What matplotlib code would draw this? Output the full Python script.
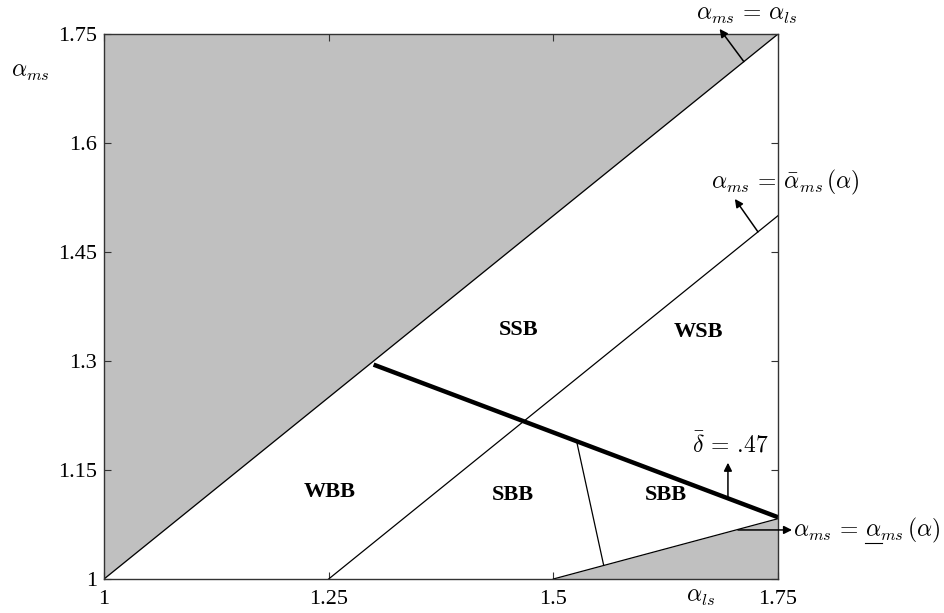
import matplotlib
matplotlib.use("Agg")
import matplotlib.pyplot as plt
from matplotlib.lines import Line2D

plt.rcParams['mathtext.fontset'] = 'cm'
plt.rcParams['font.family'] = ['Liberation Serif', 'DejaVu Serif']

# ---- data ----
diag_x = [1.0, 1.75]
diag_y = [1.0, 1.75]
upper_x = [1.25, 1.75]
upper_y = [1.0, 1.5]
lower_x = [1.5, 1.75]
lower_y = [1.0, 1.083]
delta_x = [1.3, 1.75]
delta_y = [1.295, 1.085]
split_x = [1.526, 1.556]
split_y = [1.189, 1.019]

xticks = [1, 1.25, 1.5, 1.75]
xticklabels = ['1', '1.25', '1.5', '1.75']
yticks = [1, 1.15, 1.3, 1.45, 1.6, 1.75]
yticklabels = ['1', '1.15', '1.3', '1.45', '1.6', '1.75']

region_names = ['SSB', 'WSB', 'WBB', 'SBB', 'SBB']
region_x = [1.461, 1.662, 1.2515, 1.455, 1.625]
region_y = [1.343, 1.340, 1.120, 1.116, 1.116]

gray = '#c0c0c0'
MFS = 17

fig = plt.figure(figsize=(9.45, 6.13), dpi=100)
ax = fig.add_axes([104/945, 1-579/613, 674/945, 545/613])
ax.set_xlim(1, 1.75)
ax.set_ylim(1, 1.75)

ax.fill_between(diag_x, diag_y, 1.75, color=gray, lw=0)
ax.fill_between(lower_x, 1.0, lower_y, color=gray, lw=0)

ax.plot(diag_x, diag_y, color='black', lw=0.9)
ax.plot(upper_x, upper_y, color='black', lw=0.9)
ax.plot(lower_x, lower_y, color='black', lw=0.9)
ax.plot(split_x, split_y, color='black', lw=0.9)
ax.plot(delta_x, delta_y, color='black', lw=3.2, solid_capstyle='butt')

for s in ax.spines.values():
    s.set_color('#333333')
    s.set_linewidth(1.0)

ax.set_xticks(xticks)
ax.set_xticklabels(xticklabels)
ax.set_yticks(yticks)
ax.set_yticklabels(yticklabels)
ax.tick_params(direction='in', length=5, width=0.8, colors='#333333',
               labelcolor='black', labelsize=16, top=True, right=True, pad=5)
ax.tick_params(axis='x', pad=8)

for name, x, y in zip(region_names, region_x, region_y):
    ax.text(x, y, name, ha='center', va='center', fontsize=16, fontweight='bold')

fig.text(30/945, 1-72/613, r'$\alpha_{ms}$', fontsize=MFS, ha='center', va='center')
fig.text(700/945, 1-598/613, r'$\alpha_{ls}$', fontsize=MFS, ha='center', va='center')

arrowprops = dict(arrowstyle='-|>', color='black', lw=1.1, mutation_scale=12,
                  shrinkA=0, shrinkB=0)

ax.annotate('', xy=(1.685, 1.757), xytext=(1.712, 1.712),
            arrowprops=arrowprops, annotation_clip=False)
fig.text(747/945, 1-15/613, r'$\alpha_{ms}\,=\,\alpha_{ls}$', fontsize=MFS,
         ha='center', va='center')

ax.annotate('', xy=(1.702, 1.523), xytext=(1.7277, 1.4777),
            arrowprops=arrowprops, annotation_clip=False)
fig.text(785/945, 1-182/613, r'$\alpha_{ms}\,=\,\bar{\alpha}_{ms}\,(\alpha)$', fontsize=MFS,
         ha='center', va='center')

ax.annotate('', xy=(1.6943, 1.160), xytext=(1.6943, 1.112),
            arrowprops=arrowprops, annotation_clip=False)
fig.text(730/945, 1-445/613, r'$\bar{\delta}\,=\,.\!47$', fontsize=MFS,
         ha='center', va='center')

ax.annotate('', xy=(1.7656, 1.0675), xytext=(1.7055, 1.0675),
            arrowprops=arrowprops, annotation_clip=False)
lx, ly = 793/945, 1-530/613
t_low = fig.text(lx, ly, r'$\alpha_{ms}\,=\,\alpha_{ms}\,(\alpha)$', fontsize=MFS,
                 ha='left', va='center')

# underline the second alpha
fig.canvas.draw()
r = fig.canvas.get_renderer()
bb = t_low.get_window_extent(r)
pre = fig.text(lx, ly, r'$\alpha_{ms}\,=\,\alpha$', fontsize=MFS, ha='left', va='center')
alp = fig.text(lx, ly, r'$\alpha$', fontsize=MFS, ha='left', va='center')
bpre = pre.get_window_extent(r)
balp = alp.get_window_extent(r)
pre.remove(); alp.remove()
x1 = bb.x0 + bpre.width
x0 = x1 - balp.width
yl = bb.y0 + 2
fig.add_artist(Line2D([x0/945, x1/945], [yl/613, yl/613], color='black', lw=0.8))

fig.savefig('out.png', dpi=100)
